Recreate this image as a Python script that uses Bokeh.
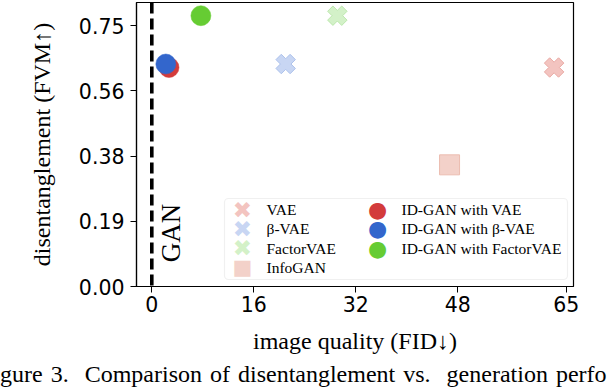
import math
from bokeh.plotting import figure
from bokeh.models import Range1d, FixedTicker, Span, Label, BoxAnnotation, Div
from bokeh.layouts import column
from bokeh.embed import file_html
from bokeh.resources import INLINE

# ---------------- data ----------------
vae_names = ["VAE", "β-VAE", "FactorVAE"]
vae_fid = [63.1, 21.0, 29.1]
vae_fvm = [0.630, 0.640, 0.779]

infogan_name = "InfoGAN"
infogan_fid = [46.7]
infogan_fvm = [0.350]

idgan_names = ["ID-GAN with VAE", "ID-GAN with β-VAE", "ID-GAN with FactorVAE"]
idgan_fid = [2.7, 2.2, 7.7]
idgan_fvm = [0.630, 0.640, 0.779]

gan_fid = 0.0
gan_text = "GAN"

x_ticks = [0, 16, 32, 48, 65]
y_ticks = [0.0, 0.1875, 0.375, 0.5625, 0.75]
y_tick_labels = ["0.00", "0.19", "0.38", "0.56", "0.75"]

x_label = "image quality (FID\u2193)"
y_label = "disentanglement (FVM\u2191)"
caption = "gure 3.&nbsp; Comparison of disentanglement vs.&nbsp; generation perfo"

# ---------------- styles ----------------
vae_fill = ["#f3c4c0", "#c8d6f3", "#d3f1c8"]
vae_line = ["#eaaaa4", "#adc2ec", "#bce8ad"]
infogan_fill = "#f3d1c9"
infogan_line = "#ecbcb0"
idgan_colors = ["#d33b3b", "#3366cc", "#66cc33"]

W, H, PAGE_H = 612, 364, 388
FRAME_L, FRAME_R, FRAME_T, FRAME_B = 136, 573, 2, 286
SERIF = "Liberation Serif"

p = figure(width=W, height=H, output_backend="svg", toolbar_location=None,
           x_range=Range1d(-2.4, 66.14), y_range=Range1d(0, 0.817),
           min_border_left=FRAME_L, min_border_right=W - FRAME_R,
           min_border_top=FRAME_T, min_border_bottom=H - FRAME_B)
p.background_fill_color = "white"
p.border_fill_color = "white"
p.xgrid.visible = False
p.ygrid.visible = False
p.outline_line_color = "black"
p.outline_line_width = 1.2

for ax in (p.xaxis[0], p.yaxis[0]):
    ax.major_tick_out = 6
    ax.major_tick_in = 0
    ax.major_tick_line_color = "black"
    ax.minor_tick_line_color = None
    ax.axis_line_color = "black"
    ax.axis_line_width = 1.2
    ax.major_label_text_font = "DejaVu Sans"
    ax.major_label_text_font_size = "20.5px"
    ax.major_label_text_color = "black"
    ax.axis_label_text_font = SERIF
    ax.axis_label_text_font_size = "24px"
    ax.axis_label_text_font_style = "normal"
    ax.axis_label_text_color = "black"

p.xaxis.ticker = FixedTicker(ticks=x_ticks)
p.yaxis.ticker = FixedTicker(ticks=y_ticks)
p.yaxis.major_label_overrides = {t: l for t, l in zip(y_ticks, y_tick_labels)}
p.xaxis.axis_label = x_label
p.yaxis.axis_label = y_label
p.xaxis.major_label_standoff = 3
p.yaxis.major_label_standoff = 6
p.xaxis.axis_label_standoff = 13
p.yaxis.axis_label_standoff = 21

# GAN reference line
p.add_layout(Span(location=gan_fid, dimension="height", line_color="black",
                  line_width=3.6, line_dash="11 5"))
p.add_layout(Label(x=gan_fid, y=0.154, x_offset=19.5, text=gan_text, angle=math.pi / 2,
                   text_font=SERIF, text_font_size="27px", text_align="center",
                   text_baseline="middle", text_color="black"))

# baseline VAE family (filled X markers)
for i in range(len(vae_names)):
    p.scatter([vae_fid[i]], [vae_fvm[i]], marker="plus", angle=math.pi / 4, size=20,
              fill_color=vae_fill[i], line_color=vae_line[i], line_width=1)

p.scatter(infogan_fid, infogan_fvm, marker="square", size=20,
          fill_color=infogan_fill, line_color=infogan_line, line_width=1)

for i in range(len(idgan_names)):
    p.scatter([idgan_fid[i]], [idgan_fvm[i]], marker="circle", size=20,
              fill_color=idgan_colors[i], line_color=idgan_colors[i], line_width=0.5)

# ---------------- legend (screen units are relative to the frame) ----------------
def sx(xc):
    return xc - FRAME_L

def sy(yc):
    return FRAME_B - yc

leg_left, leg_right, leg_top, leg_bottom = 224, 567, 198, 279
p.add_layout(BoxAnnotation(left=sx(leg_left), right=sx(leg_right), top=sy(leg_top), bottom=sy(leg_bottom),
                           left_units="screen", right_units="screen",
                           top_units="screen", bottom_units="screen",
                           fill_color="white", fill_alpha=0.85,
                           line_color="#cccccc", line_width=1.2, border_radius=4))

row_y = [209, 228.3, 247.7, 266.7]
col1_items = [(vae_names[i], "\u2716", vae_fill[i]) for i in range(3)] + [(infogan_name, "\u25a0", infogan_fill)]
col2_items = [(idgan_names[i], "\u25cf", idgan_colors[i]) for i in range(3)]
marker_size = {"\u2716": "23px", "\u25a0": "21px", "\u25cf": "22px"}

for items, gx, tx in ((col1_items, 242, 266), (col2_items, 377, 401)):
    for (name, sym, col), ry in zip(items, row_y):
        p.add_layout(Label(x=sx(gx), y=sy(ry), x_units="screen", y_units="screen", text=sym,
                           text_font="DejaVu Sans", text_font_size=marker_size[sym],
                           text_color=col, text_align="center", text_baseline="middle"))
        p.add_layout(Label(x=sx(tx), y=sy(ry), x_units="screen", y_units="screen", text=name,
                           text_font=SERIF, text_font_size="15.5px", text_color="black",
                           text_align="left", text_baseline="middle"))

# caption line (as far as the reference shows it)
cap = Div(text=('<div style="font-family:\'Liberation Serif\';font-size:24px;line-height:20px;'
                'word-spacing:2px;white-space:nowrap;margin-left:0px;color:black;">' + caption + '</div>'),
          width=W, height=PAGE_H - H, margin=0)

layout = column(p, cap, spacing=0)
open("out.html", "w").write(file_html(layout, INLINE))
